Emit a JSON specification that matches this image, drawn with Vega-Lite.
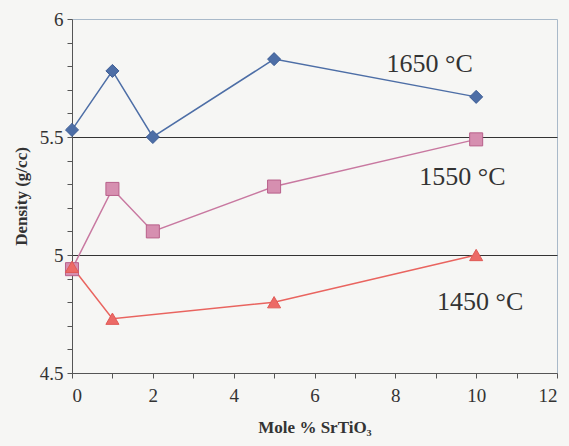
{
  "$schema": "https://vega.github.io/schema/vega-lite/v6.json",
  "width": 485,
  "height": 354,
  "autosize": {"type": "none"},
  "padding": {"left": 72, "top": 19, "right": 12, "bottom": 73},
  "background": "#f6f6f4",
  "config": {"view": {"stroke": "#a9b9c9", "strokeWidth": 1}, "font": "Liberation Serif"},
  "datasets": {
    "pts": [
      {"series": "1650", "x": 0, "y": 5.53},
      {"series": "1650", "x": 1, "y": 5.78},
      {"series": "1650", "x": 2, "y": 5.50},
      {"series": "1650", "x": 5, "y": 5.83},
      {"series": "1650", "x": 10, "y": 5.67},
      {"series": "1550", "x": 0, "y": 4.94},
      {"series": "1550", "x": 1, "y": 5.28},
      {"series": "1550", "x": 2, "y": 5.10},
      {"series": "1550", "x": 5, "y": 5.29},
      {"series": "1550", "x": 10, "y": 5.49},
      {"series": "1450", "x": 0, "y": 4.95},
      {"series": "1450", "x": 1, "y": 4.73},
      {"series": "1450", "x": 5, "y": 4.80},
      {"series": "1450", "x": 10, "y": 5.00}
    ],
    "labels": [
      {"label": "1650 °C", "lx": 8.85, "ly": 5.81},
      {"label": "1550 °C", "lx": 9.66, "ly": 5.33},
      {"label": "1450 °C", "lx": 10.1, "ly": 4.80}
    ]
  },
  "encoding": {
    "x": {
      "field": "x", "type": "quantitative",
      "scale": {"domain": [0, 12], "nice": false, "zero": false},
      "axis": {
        "values": [0,1,2,3,4,5,6,7,8,9,10,11,12],
        "labelExpr": "datum.value % 2 === 0 ? datum.label : ''",
        "title": "Mole % SrTiO₃",
        "grid": false,
        "tickSize": 5, "tickColor": "#555", "domainColor": "#555",
        "labelFont": "Liberation Serif", "labelFontSize": 19, "labelColor": "#333", "labelPadding": 8,
        "titleFont": "Liberation Serif", "titleFontSize": 17, "titleFontWeight": "bold", "titleColor": "#333", "titlePadding": 14
      }
    },
    "y": {
      "field": "y", "type": "quantitative",
      "scale": {"domain": [4.5, 6], "nice": false, "zero": false},
      "axis": {
        "values": [4.5,4.6,4.7,4.8,4.9,5.0,5.1,5.2,5.3,5.4,5.5,5.6,5.7,5.8,5.9,6.0],
        "labelExpr": "(datum.value === 4.5 || datum.value === 5 || datum.value === 5.5 || datum.value === 6) ? format(datum.value, '~g') : ''",
        "title": "Density (g/cc)",
        "grid": true,
        "gridColor": "#333",
        "gridOpacity": {"condition": {"test": "datum.value === 5 || datum.value === 5.5", "value": 1}, "value": 0},
        "tickSize": 5, "tickColor": "#555", "domainColor": "#555",
        "labelFont": "Liberation Serif", "labelFontSize": 19, "labelColor": "#333", "labelPadding": 4,
        "titleFont": "Liberation Serif", "titleFontSize": 17, "titleFontWeight": "bold", "titleColor": "#333", "titlePadding": 9
      }
    }
  },
  "layer": [
    {
      "data": {"name": "pts"},
      "mark": {"type": "line", "strokeWidth": 1.5},
      "encoding": {
        "color": {"field": "series", "type": "nominal",
          "scale": {"domain": ["1650", "1550", "1450"], "range": ["#4d6ea6", "#c878a0", "#e9645f"]},
          "legend": null}
      }
    },
    {
      "data": {"name": "pts"},
      "mark": {"type": "point", "filled": true, "size": 170, "opacity": 1, "strokeWidth": 1},
      "encoding": {
        "shape": {"field": "series", "type": "nominal",
          "scale": {"domain": ["1650", "1550", "1450"], "range": ["diamond", "square", "triangle-up"]},
          "legend": null},
        "fill": {"field": "series", "type": "nominal",
          "scale": {"domain": ["1650", "1550", "1450"], "range": ["#4d6ea6", "#d68fb0", "#ec6a66"]},
          "legend": null},
        "stroke": {"field": "series", "type": "nominal",
          "scale": {"domain": ["1650", "1550", "1450"], "range": ["#3d5d95", "#b8608a", "#e05a56"]},
          "legend": null}
      }
    },
    {
      "data": {"name": "labels"},
      "mark": {"type": "text", "font": "Liberation Serif", "fontSize": 26, "color": "#333", "align": "center", "baseline": "middle"},
      "encoding": {
        "x": {"field": "lx", "type": "quantitative"},
        "y": {"field": "ly", "type": "quantitative"},
        "text": {"field": "label", "type": "nominal"}
      }
    }
  ]
}
